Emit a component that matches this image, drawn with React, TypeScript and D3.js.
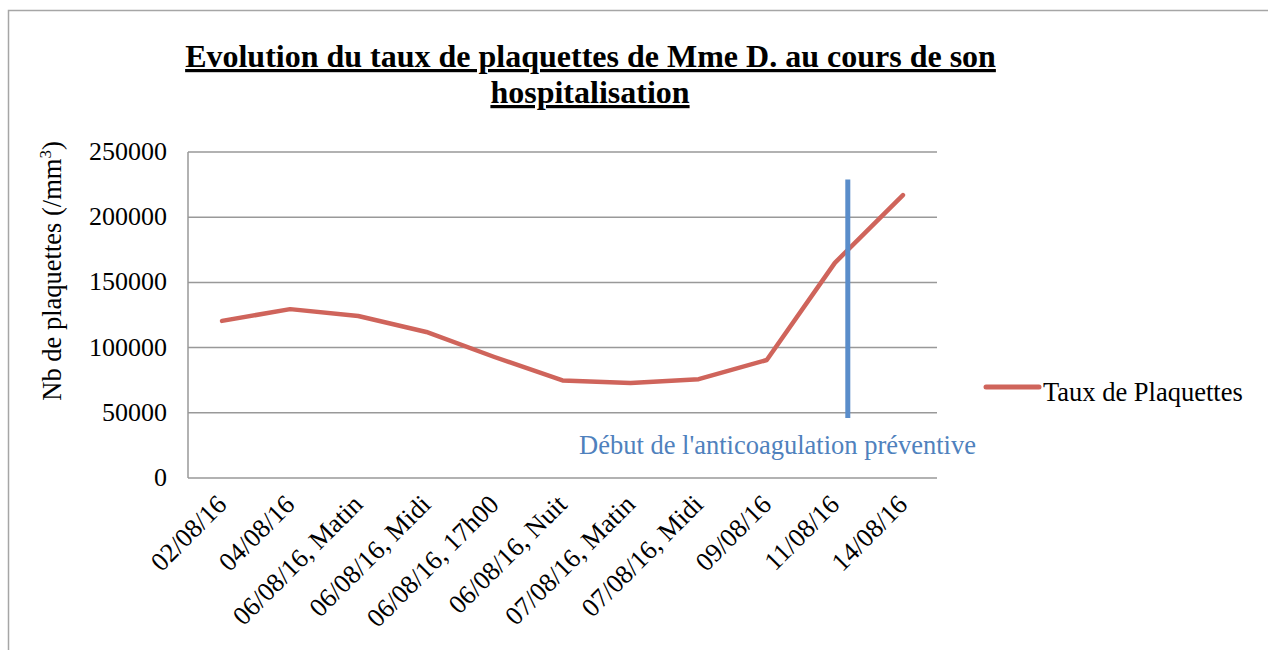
import React from "react";
import { scalePoint, scaleLinear, line } from "d3";

const categories = [
  "02/08/16",
  "04/08/16",
  "06/08/16, Matin",
  "06/08/16, Midi",
  "06/08/16, 17h00",
  "06/08/16, Nuit",
  "07/08/16, Matin",
  "07/08/16, Midi",
  "09/08/16",
  "11/08/16",
  "14/08/16",
];
const plaquettes = [120500, 129500, 124200, 112000, 92800, 74800, 72800, 75800, 90500, 165000, 217000];
const yTicks = [0, 50000, 100000, 150000, 200000, 250000];
const seriesName = "Taux de Plaquettes";
// anticoagulation marker: position between categories (index units) and its value span
const anticoagIndex = 9.19;
const anticoagSpan = [46000, 229000];
const anticoagLabel = "Début de l'anticoagulation préventive";

const font = "'Liberation Serif', 'Times New Roman', Times, serif";
const red = "#cf645b";
const blue = "#5a8dca";

export default function App() {
  const left = 188;
  const right = 937;
  const top = 152;
  const bottom = 478;

  const x = scalePoint<string>().domain(categories).range([left, right]).padding(0.5);
  const y = scaleLinear().domain([0, 250000]).range([bottom, top]);
  const step = x.step();
  const xAt = (i: number) => (x(categories[0]) as number) + i * step;

  const path = line<number>()
    .x((_, i) => x(categories[i]) as number)
    .y((d) => y(d))(plaquettes);

  return (
    <svg
      width={1268}
      height={650}
      style={{ position: "absolute", left: 0, top: 0 }}
      fontFamily={font}
    >
      <rect x={8.5} y={10.5} width={1300} height={700} fill="white" stroke="#a6a6a6" strokeWidth={1.5} />

      <g fontSize={32} fontWeight={700} textAnchor="middle">
        <text x={590.5} y={67} textDecoration="underline">
          Evolution du taux de plaquettes de Mme D. au cours de son
        </text>
        <text x={590} y={103} textDecoration="underline">
          hospitalisation
        </text>
      </g>

      {yTicks.map((t) => (
        <g key={t}>
          <line x1={left} x2={right} y1={y(t)} y2={y(t)} stroke="#999" strokeWidth={1.5} />
          <text x={167} y={y(t) + 8} textAnchor="end" fontSize={26}>
            {t}
          </text>
        </g>
      ))}
      <line x1={left} x2={left} y1={top} y2={bottom} stroke="#999" strokeWidth={1.5} />

      <text transform={`translate(61,${(top + bottom) / 2 - 44}) rotate(-90)`} textAnchor="middle" fontSize={26.5}>
        Nb de plaquettes (/mm
        <tspan fontSize={17} dy={-10}>3</tspan>
        <tspan dy={10}>)</tspan>
      </text>

      {categories.map((c) => (
        <text
          key={c}
          transform={`translate(${(x(c) as number) + 6},${bottom + 28}) rotate(-45)`}
          textAnchor="end"
          fontSize={26.5}
        >
          {c}
        </text>
      ))}

      <path d={path ?? ""} fill="none" stroke={red} strokeWidth={4.5} strokeLinejoin="round" strokeLinecap="round" />

      <line
        x1={xAt(anticoagIndex)}
        x2={xAt(anticoagIndex)}
        y1={y(anticoagSpan[0])}
        y2={y(anticoagSpan[1])}
        stroke={blue}
        strokeWidth={5}
      />
      <text x={579} y={454} fontSize={26.5} fill="#4f81bd">
        {anticoagLabel}
      </text>

      <line x1={986} x2={1039} y1={387} y2={387} stroke={red} strokeWidth={5} strokeLinecap="round" />
      <text x={1043} y={401} fontSize={26.5}>
        {seriesName}
      </text>
    </svg>
  );
}
